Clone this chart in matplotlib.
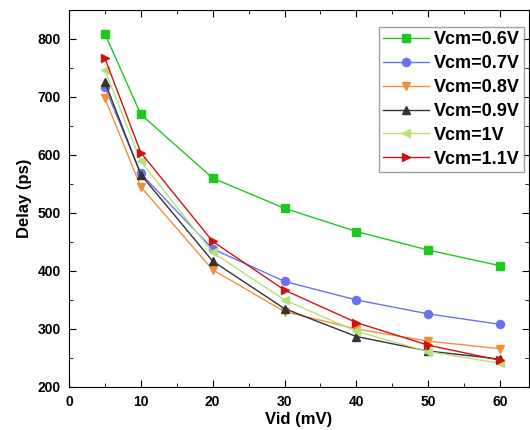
import matplotlib
matplotlib.use('Agg')
import matplotlib.pyplot as plt
from matplotlib.ticker import MultipleLocator

plt.rcParams['font.family'] = ['Liberation Sans', 'DejaVu Sans']
plt.rcParams['font.weight'] = 'bold'

vid = [5, 10, 20, 30, 40, 50, 60]

d06 = [809, 670, 560, 508, 468, 436, 409]
d07 = [717, 568, 438, 382, 350, 326, 308]
d08 = [698, 545, 402, 330, 300, 279, 266]
d09 = [726, 566, 417, 335, 287, 262, 248]
d10 = [747, 589, 432, 350, 296, 261, 241]
d11 = [767, 604, 451, 367, 311, 272, 246]

labels = ['Vcm=0.6V', 'Vcm=0.7V', 'Vcm=0.8V', 'Vcm=0.9V', 'Vcm=1V', 'Vcm=1.1V']
colors = ['#1fc81f', '#6a72ee', '#f0903a', '#333333', '#b8e07a', '#cc1414']
markers = ['s', 'o', 'v', '^', '<', '>']
series = [d06, d07, d08, d09, d10, d11]

fig = plt.figure(figsize=(5.3, 4.3), dpi=100)
ax = fig.add_axes([0.130, 0.100, 0.868, 0.877])

for d, lab, c, m in zip(series, labels, colors, markers):
    ax.plot(vid, d, color=c, marker=m, markersize=5.8, linewidth=1.0, label=lab)

ax.set_xlim(0, 64)
ax.set_ylim(200, 850)
ax.xaxis.set_major_locator(MultipleLocator(10))
ax.xaxis.set_minor_locator(MultipleLocator(5))
ax.yaxis.set_major_locator(MultipleLocator(100))
ax.yaxis.set_minor_locator(MultipleLocator(50))
ax.set_yticks([200, 300, 400, 500, 600, 700, 800])
ax.tick_params(which='both', direction='in', top=True, right=True, labelsize=10)
ax.tick_params(which='major', length=5, pad=6)
ax.tick_params(which='minor', length=3)
for lab in ax.get_xticklabels() + ax.get_yticklabels():
    lab.set_fontweight('bold')

ax.set_xlabel('Vid (mV)', fontsize=12, fontweight='bold', labelpad=2)
ax.set_ylabel('Delay (ps)', fontsize=12, fontweight='bold', labelpad=4)

leg = ax.legend(loc='upper right', bbox_to_anchor=(0.990, 0.955), fontsize=13,
                frameon=True, fancybox=False, edgecolor='#888888',
                borderpad=0.25, labelspacing=0.38, handlelength=2.5,
                handletextpad=0.3, borderaxespad=0.0)
leg.get_frame().set_linewidth(1.0)
for t in leg.get_texts():
    t.set_fontweight('bold')

fig.savefig('out.png', dpi=100)
